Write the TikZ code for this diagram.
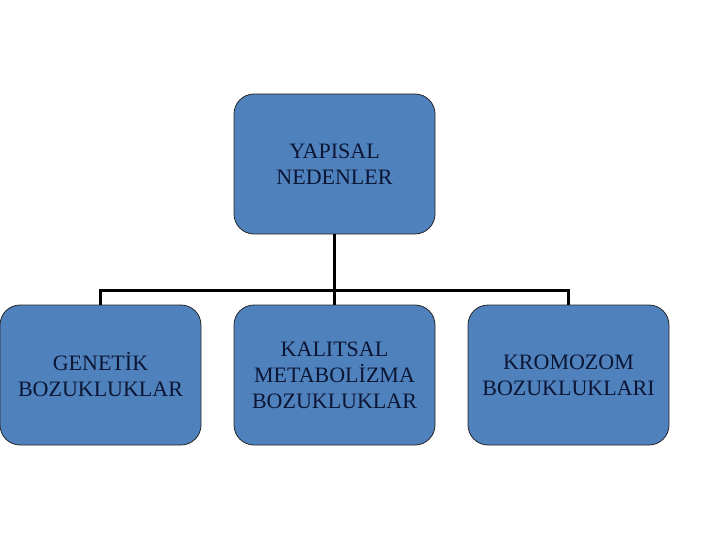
\documentclass[tikz,border=0pt]{standalone}
\usepackage{fontspec}
\setmainfont{Liberation Serif}
\definecolor{boxblue}{HTML}{4F81BD}
\definecolor{boxtext}{RGB}{12,22,52}
\begin{document}
\begin{tikzpicture}[x=1pt,y=-1pt,
  orgbox/.style={draw=black!85, line width=0.8pt, fill=boxblue, rounded corners=20pt,
    minimum width=201pt, minimum height=140pt, inner sep=0pt, align=center,
    text=boxtext, font=\fontsize{22}{26}\selectfont},
  link/.style={line width=3pt}]
\useasboundingbox (0,0) rectangle (720,540);
\node[orgbox] (top) at (334.5,164) {YAPISAL\ \\NEDENLER};
\node[orgbox] (b1) at (100.5,375) {GENETİK\\BOZUKLUKLAR};
\node[orgbox] (b2) at (334.5,375) {KALITSAL\\METABOLİZMA\\BOZUKLUKLAR};
\node[orgbox] (b3) at (568.5,375) {KROMOZOM\\BOZUKLUKLARI};
\coordinate (hub) at (334.5,290);
\draw[link] (top.south) -- (hub);
\draw[link] (hub) -| (b1.north);
\draw[link] (hub) -| (b3.north);
\draw[link] (hub) -- (b2.north);
\end{tikzpicture}
\end{document}
